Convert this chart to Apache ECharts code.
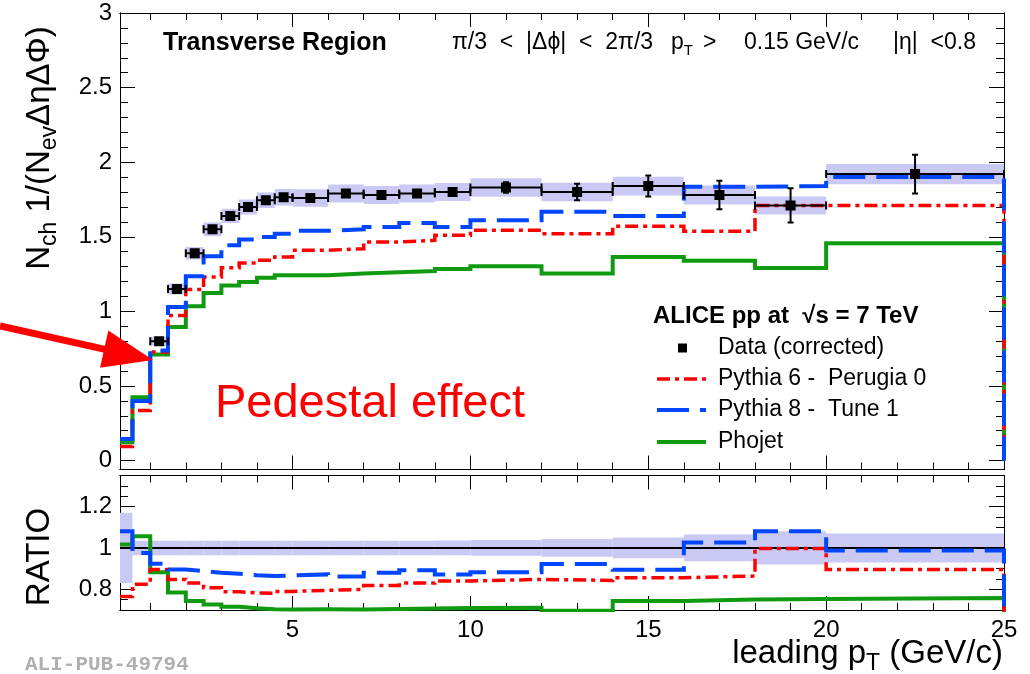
<!DOCTYPE html>
<html>
<head>
<meta charset="utf-8">
<script src="https://cdn.jsdelivr.net/npm/echarts@6/dist/echarts.min.js"></script>
<style>
html,body{margin:0;padding:0;background:#fff}
#chart{width:1030px;height:674px}
</style>
</head>
<body>
<div id="chart"></div>
<script>
// Leading-pT bin edges (GeV/c)
const binEdges = [0.15,0.5,1,1.5,2,2.5,3,3.5,4,4.5,5,6,7,8,9,10,12,14,16,18,20,25];

// Measured transverse-region density (corrected data)
const dataValues = [null,null,0.80,1.15,1.39,1.55,1.64,1.70,1.745,1.765,1.76,1.79,1.78,1.79,1.80,1.83,1.80,1.84,1.78,1.71,1.92];
const dataStatErr = [null,null,0.006,0.006,0.006,0.007,0.007,0.008,0.008,0.009,0.010,0.012,0.012,0.014,0.025,0.035,0.055,0.07,0.095,0.115,0.13];
const dataSysErr = [null,null,0.03,0.037,0.042,0.046,0.048,0.05,0.052,0.055,0.058,0.06,0.06,0.06,0.06,0.062,0.062,0.063,0.063,0.06,0.068];

// Monte Carlo predictions
const pythia6 = [0.095,0.336,0.727,0.973,1.146,1.23,1.293,1.324,1.342,1.364,1.41,1.42,1.465,1.476,1.51,1.544,1.521,1.57,1.537,1.71,1.71];
const pythia8 = [0.145,0.40,0.738,1.03,1.235,1.369,1.443,1.481,1.499,1.521,1.54,1.55,1.566,1.593,1.566,1.61,1.667,1.64,1.835,1.84,1.90];
const phojet  = [0.123,0.425,0.711,0.895,1.034,1.123,1.174,1.197,1.226,1.242,1.242,1.253,1.262,1.27,1.284,1.302,1.253,1.364,1.34,1.29,1.456];

// MC / data ratios and total data uncertainty band
const ratioPythia6 = [0.765,0.824,0.896,0.848,0.83,0.807,0.788,0.783,0.78,0.79,0.795,0.80,0.819,0.83,0.84,0.848,0.843,0.856,0.864,0.997,0.896];
const ratioPythia8 = [1.08,0.975,0.923,0.896,0.888,0.88,0.875,0.868,0.864,0.867,0.872,0.862,0.88,0.892,0.872,0.883,0.922,0.895,1.026,1.08,0.987];
const ratioPhojet  = [1.016,1.056,0.883,0.784,0.743,0.727,0.716,0.708,0.704,0.703,0.704,0.703,0.705,0.707,0.71,0.711,0.696,0.743,0.751,0.753,0.758];
const ratioBand    = [0.17,0.035,0.035,0.035,0.035,0.035,0.035,0.035,0.035,0.035,0.035,0.035,0.035,0.035,0.036,0.038,0.043,0.05,0.065,0.08,0.07];

// Tick positions
const xMajor = [5,10,15,20,25];
const xMinor = [1,2,3,4,6,7,8,9,11,12,13,14,16,17,18,19,21,22,23,24];
const yTopMajor = [0,0.5,1,1.5,2,2.5,3];
const yTopMinor = [];
for (let k = 1; k < 30; k++) if (k % 5) yTopMinor.push(k / 10);
const yRatioMajor = [0.8,1,1.2];
const yRatioMinor = [0.75,0.85,0.9,0.95,1.05,1.1,1.15,1.25,1.3];

const FONT = '"Liberation Sans", Arial, Helvetica, sans-serif';
const RED = '#ff0000', BLUE = '#0046ff', GREEN = '#109a10', BAND = '#c9c9f4';
const DASH_RED = [13,5,4,5], DASH_BLUE = [32,11];

const chart = echarts.init(document.getElementById('chart'), null, {renderer: 'canvas'});

function xAxes(grid, labels) {
  const base = {type: 'value', gridIndex: grid, min: 0.15, max: 25, splitLine: {show: false},
    axisLine: {show: true, onZero: false, lineStyle: {color: '#000', width: 1}}};
  const lab = {show: labels, customValues: xMajor, color: '#000', fontSize: 24, fontFamily: FONT, margin: 8};
  return [
    Object.assign({}, base, {position: 'bottom', axisTick: {show: true, inside: true, length: 14, customValues: xMajor, lineStyle: {color: '#000'}}, axisLabel: lab}),
    Object.assign({}, base, {position: 'bottom', axisTick: {show: true, inside: true, length: 7, customValues: xMinor, lineStyle: {color: '#000'}}, axisLabel: {show: false}}),
    Object.assign({}, base, {position: 'top', axisTick: {show: true, inside: true, length: 14, customValues: xMajor, lineStyle: {color: '#000'}}, axisLabel: {show: false}}),
    Object.assign({}, base, {position: 'top', axisTick: {show: true, inside: true, length: 7, customValues: xMinor, lineStyle: {color: '#000'}}, axisLabel: {show: false}})
  ];
}
function yAxes(grid, min, max, major, minor) {
  const base = {type: 'value', gridIndex: grid, min: min, max: max, splitLine: {show: false},
    axisLine: {show: true, onZero: false, lineStyle: {color: '#000', width: 1}}};
  return [
    Object.assign({}, base, {position: 'left', axisTick: {show: true, inside: true, length: 15, customValues: major, lineStyle: {color: '#000'}},
      axisLabel: {show: true, customValues: major, color: '#000', fontSize: 24, fontFamily: FONT, margin: 8,
        formatter: v => String(+(+v).toFixed(2))}}),
    Object.assign({}, base, {position: 'left', axisTick: {show: true, inside: true, length: 8, customValues: minor, lineStyle: {color: '#000'}}, axisLabel: {show: false}}),
    Object.assign({}, base, {position: 'right', axisTick: {show: true, inside: true, length: 15, customValues: major, lineStyle: {color: '#000'}}, axisLabel: {show: false}}),
    Object.assign({}, base, {position: 'right', axisTick: {show: true, inside: true, length: 8, customValues: minor, lineStyle: {color: '#000'}}, axisLabel: {show: false}})
  ];
}

// Histogram outline: flat top over each bin, then down to the floor after the last bin
function stepPoints(vals, floor) {
  const pts = [];
  vals.forEach((v, i) => { pts.push([binEdges[i], v]); pts.push([binEdges[i + 1], v]); });
  pts.push([binEdges[binEdges.length - 1], floor]);
  return pts;
}
function stepSeries(axis, vals, floor, color, width, dash, z) {
  return {type: 'line', xAxisIndex: axis, yAxisIndex: axis, data: stepPoints(vals, floor),
    symbol: 'none', showSymbol: false, clip: true, silent: true, z: z,
    lineStyle: {color: color, width: width, type: dash || 'solid', cap: 'butt', join: 'miter'}};
}
// Shaded uncertainty boxes, one per bin
function bandSeries(axis, centers, halfs) {
  const items = [];
  centers.forEach((c, i) => { if (c != null) items.push([binEdges[i], binEdges[i + 1], c - halfs[i], c + halfs[i]]); });
  return {type: 'custom', xAxisIndex: axis, yAxisIndex: axis, data: items, clip: true, silent: true, z: 1,
    encode: {x: [0, 1], y: [2, 3]},
    renderItem: (params, api) => {
      const a = api.coord([api.value(0), api.value(3)]);
      const b = api.coord([api.value(1), api.value(2)]);
      return {type: 'rect', shape: {x: a[0], y: a[1], width: b[0] - a[0], height: b[1] - a[1]}, style: {fill: BAND}};
    }};
}
// Data markers with bin-width and statistical error bars
function dataSeries() {
  const items = [];
  dataValues.forEach((v, i) => { if (v != null) items.push([binEdges[i], binEdges[i + 1], v, dataStatErr[i]]); });
  return {type: 'custom', xAxisIndex: 0, yAxisIndex: 0, data: items, clip: true, silent: true, z: 10,
    encode: {x: [0, 1], y: 2},
    renderItem: (params, api) => {
      const lo = api.value(0), hi = api.value(1), v = api.value(2), e = api.value(3);
      const pl = api.coord([lo, v]), ph = api.coord([hi, v]);
      const mid = (lo + hi) / 2;
      const pt = api.coord([mid, v + e]), pb = api.coord([mid, v - e]);
      const cx = (pl[0] + ph[0]) / 2, cy = pl[1];
      const st = {stroke: '#000', lineWidth: 2};
      const ch = [
        {type: 'line', shape: {x1: pl[0], y1: cy, x2: ph[0], y2: cy}, style: st},
        {type: 'line', shape: {x1: pl[0], y1: cy - 4, x2: pl[0], y2: cy + 4}, style: st},
        {type: 'line', shape: {x1: ph[0], y1: cy - 4, x2: ph[0], y2: cy + 4}, style: st}
      ];
      if (pb[1] - pt[1] > 9) {
        ch.push({type: 'line', shape: {x1: cx, y1: pt[1], x2: cx, y2: pb[1]}, style: st});
        ch.push({type: 'line', shape: {x1: cx - 3, y1: pt[1], x2: cx + 3, y2: pt[1]}, style: st});
        ch.push({type: 'line', shape: {x1: cx - 3, y1: pb[1], x2: cx + 3, y2: pb[1]}, style: st});
      }
      ch.push({type: 'rect', shape: {x: cx - 5, y: cy - 5, width: 10, height: 10}, style: {fill: '#000'}});
      return {type: 'group', children: ch};
    }};
}

const ones = ratioBand.map(() => 1);

// Arrow geometry (pixel space annotation)
const tip = [153, 360], tail = [0, 326];
const dl = Math.hypot(tip[0] - tail[0], tip[1] - tail[1]);
const ux = (tip[0] - tail[0]) / dl, uy = (tip[1] - tail[1]) / dl;
const hb = [tip[0] - 50 * ux, tip[1] - 50 * uy];
const c1 = [hb[0] - 19 * uy, hb[1] + 19 * ux], c2 = [hb[0] + 19 * uy, hb[1] - 19 * ux];

const subRich = {
  m: {fontSize: 33, fontFamily: FONT, lineHeight: 42, fill: '#000'},
  s: {fontSize: 23, fontFamily: FONT, lineHeight: 23, verticalAlign: 'bottom', fill: '#000'}
};
const smallRich = {
  m: {fontSize: 23, fontFamily: FONT, lineHeight: 30, fill: '#000'},
  s: {fontSize: 15, fontFamily: FONT, lineHeight: 15, verticalAlign: 'bottom', fill: '#000'}
};

function label(x, y, text, font, extra) {
  return Object.assign({type: 'text', x: x, y: y, z: 20,
    style: Object.assign({text: text, font: font, fill: '#000', textAlign: 'left', textVerticalAlign: 'middle', align: 'left', verticalAlign: 'middle'}, extra || {})});
}

const legendY = [348, 379, 410, 442];

chart.setOption({
  animation: false,
  backgroundColor: '#fff',
  grid: [
    {left: 120, width: 884, top: 13, height: 456.5, containLabel: false, outerBoundsMode: 'none'},
    {left: 120, width: 884, top: 475.5, height: 134.5, containLabel: false, outerBoundsMode: 'none'}
  ],
  xAxis: [].concat(xAxes(0, false), xAxes(1, true)),
  yAxis: [].concat(yAxes(0, -0.06, 3, yTopMajor, yTopMinor), yAxes(1, 0.7, 1.35, yRatioMajor, yRatioMinor)),
  series: [
    bandSeries(0, dataValues, dataSysErr),
    stepSeries(0, phojet, 0, GREEN, 4, null, 5),
    stepSeries(0, pythia6, 0, RED, 3.5, DASH_RED, 6),
    stepSeries(0, pythia8, 0, BLUE, 4, DASH_BLUE, 7),
    dataSeries(),
    bandSeries(4, ones, ratioBand),
    {type: 'line', xAxisIndex: 4, yAxisIndex: 4, data: [[0.15, 1], [25, 1]], symbol: 'none', silent: true, z: 4,
      lineStyle: {color: '#000', width: 2}},
    stepSeries(4, ratioPhojet, 0, GREEN, 4, null, 5),
    stepSeries(4, ratioPythia6, 0, RED, 3.5, DASH_RED, 6),
    stepSeries(4, ratioPythia8, 0, BLUE, 4, DASH_BLUE, 7)
  ],
  graphic: [
    label(163, 43, 'Transverse Region', 'bold 25px ' + FONT),
    label(452, 43, 'π/3  <  |Δϕ|  <  2π/3', '23px ' + FONT),
    label(671, 43, '{m|p}{s|T}', '23px ' + FONT, {rich: smallRich}),
    label(703, 43, '>', '23px ' + FONT),
    label(744, 43, '0.15 GeV/c', '23px ' + FONT),
    label(893, 43, '|η|  <0.8', '23px ' + FONT),

    label(653, 316, 'ALICE pp at  √s = 7 TeV', 'bold 24px ' + FONT),
    {type: 'rect', z: 20, shape: {x: 678, y: legendY[0] - 4.5, width: 9, height: 9}, style: {fill: '#000'}},
    {type: 'line', z: 20, shape: {x1: 657, y1: legendY[1], x2: 706, y2: legendY[1]}, style: {stroke: RED, lineWidth: 3.5, lineDash: DASH_RED}},
    {type: 'line', z: 20, shape: {x1: 657, y1: legendY[2], x2: 706, y2: legendY[2]}, style: {stroke: BLUE, lineWidth: 4, lineDash: DASH_BLUE}},
    {type: 'line', z: 20, shape: {x1: 657, y1: legendY[3], x2: 706, y2: legendY[3]}, style: {stroke: GREEN, lineWidth: 4}},
    label(718, legendY[0], 'Data (corrected)', '23px ' + FONT),
    label(718, legendY[1], 'Pythia 6 -  Perugia 0', '23px ' + FONT),
    label(718, legendY[2], 'Pythia 8 -  Tune 1', '23px ' + FONT),
    label(718, legendY[3], 'Phojet', '23px ' + FONT),

    label(370, 404, 'Pedestal effect', '47px ' + FONT, {fill: RED, textAlign: 'center', align: 'center'}),
    {type: 'line', z: 30, shape: {x1: tail[0], y1: tail[1], x2: hb[0] + 2 * ux, y2: hb[1] + 2 * uy}, style: {stroke: RED, lineWidth: 7}},
    {type: 'polygon', z: 30, shape: {points: [tip, c1, c2]}, style: {fill: RED}},

    {type: 'text', x: 40, y: 148, rotation: Math.PI / 2, z: 20, style: {text: '{m|N}{s|ch}{m| 1/(N}{s|ev}{m|ΔηΔΦ)}', rich: subRich, textAlign: 'center', textVerticalAlign: 'middle', align: 'center', verticalAlign: 'middle'}},
    {type: 'text', x: 40, y: 557, rotation: Math.PI / 2, z: 20, style: {text: 'RATIO', font: '33px ' + FONT, fill: '#000', textAlign: 'center', textVerticalAlign: 'middle', align: 'center', verticalAlign: 'middle'}},
    {type: 'text', x: 1003, y: 654, z: 20, style: {text: '{m|leading p}{s|T}{m| (GeV/c)}', rich: subRich, textAlign: 'right', textVerticalAlign: 'middle', align: 'right', verticalAlign: 'middle'}},
    label(25, 665, 'ALI-PUB-49794', 'bold 21px "Liberation Mono", "DejaVu Sans Mono", monospace', {fill: '#b0b0b0'})
  ]
});
</script>
</body>
</html>
